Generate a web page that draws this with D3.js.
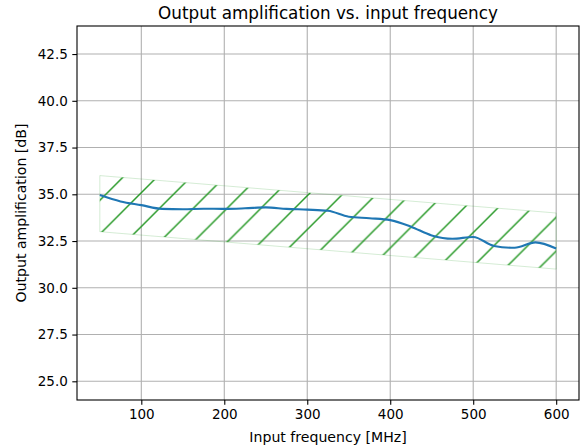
<!DOCTYPE html>
<html>
<head>
<meta charset="utf-8">
<script src="https://cdn.jsdelivr.net/npm/d3@7"></script>
<style>
  html, body { margin: 0; padding: 0; background: #fff; }
  text { font-family: "DejaVu Sans", sans-serif; fill: #000; }
</style>
</head>
<body>
<svg id="chart" width="583" height="447"></svg>
<script>
// ---- data ----
const freq = [50, 75, 100, 125, 150, 175, 200, 225, 250, 275, 300, 325, 350, 375, 400, 425, 450, 475, 500, 525, 550, 575, 600];
const gain = [34.96, 34.62, 34.42, 34.22, 34.2, 34.23, 34.22, 34.25, 34.3, 34.22, 34.18, 34.12, 33.8, 33.72, 33.62, 33.27, 32.8, 32.62, 32.72, 32.24, 32.14, 32.43, 32.1];
const bandX = [50, 600];
const bandUpper = [36, 34];
const bandLower = [33, 31];
const xTicks = [100, 200, 300, 400, 500, 600];
const yTicks = [25.0, 27.5, 30.0, 32.5, 35.0, 37.5, 40.0, 42.5];
const titleText = "Output amplification vs. input frequency";
const xLabel = "Input frequency [MHz]";
const yLabel = "Output amplification [dB]";

// ---- layout ----
const W = 583, H = 447;
const m = { left: 77, right: 4, top: 26, bottom: 47 };
const iw = W - m.left - m.right, ih = H - m.top - m.bottom;

const svg = d3.select("#chart");
const g = svg.append("g").attr("transform", `translate(${m.left},${m.top})`);

const x = d3.scaleLinear().domain([22.5, 627.5]).range([0, iw]);
const y = d3.scaleLinear().domain([24, 44]).range([ih, 0]);

// hatch pattern (45deg lines)
const s = 33.8, phase = 29.8;
const tx = (((phase - m.left - m.top) % s) + s) % s;
const defs = svg.append("defs");
const pat = defs.append("pattern")
  .attr("id", "hatch")
  .attr("patternUnits", "userSpaceOnUse")
  .attr("width", s).attr("height", s)
  .attr("patternTransform", `translate(${tx},0)`);
pat.append("path")
  .attr("d", `M0,${s} L${s},0 M${-2},2 L2,${-2} M${s-2},${s+2} L${s+2},${s-2}`)
  .attr("stroke", "#2a9a2a").attr("stroke-width", 1.5).attr("fill", "none");

// grid
g.append("g").selectAll("line").data(xTicks).join("line")
  .attr("x1", d => x(d)).attr("x2", d => x(d))
  .attr("y1", 0).attr("y2", ih)
  .attr("stroke", "#b0b0b0").attr("stroke-width", 1.1);
g.append("g").selectAll("line").data(yTicks).join("line")
  .attr("y1", d => y(d)).attr("y2", d => y(d))
  .attr("x1", 0).attr("x2", iw)
  .attr("stroke", "#b0b0b0").attr("stroke-width", 1.1);

// band
const bandData = bandX.map((v, i) => ({ x: v, lo: bandLower[i], hi: bandUpper[i] }));
const area = d3.area().x(d => x(d.x)).y0(d => y(d.lo)).y1(d => y(d.hi));
g.append("path").datum(bandData)
  .attr("d", area)
  .attr("fill", "url(#hatch)")
  .attr("stroke", "#2ca02c").attr("stroke-opacity", 0.2).attr("stroke-width", 1);

// main line
const line = d3.line().x((d, i) => x(freq[i])).y(d => y(d)).curve(d3.curveMonotoneX);
g.append("path").datum(gain)
  .attr("d", line)
  .attr("fill", "none").attr("stroke", "#1f77b4").attr("stroke-width", 2.1);

// axes
const xAxis = d3.axisBottom(x).tickValues(xTicks).tickSize(4.7).tickPadding(4.5).tickFormat(d3.format("d"));
const yAxis = d3.axisLeft(y).tickValues(yTicks).tickSize(4.7).tickPadding(4.5).tickFormat(d3.format(".1f"));
const gx = g.append("g").attr("transform", `translate(0,${ih})`).call(xAxis);
const gy = g.append("g").call(yAxis);
[gx, gy].forEach(a => {
  a.select(".domain").remove();
  a.selectAll(".tick line").attr("stroke", "#000").attr("stroke-width", 1.1);
  a.selectAll(".tick text").attr("font-size", "13.5px").attr("font-family", "DejaVu Sans").attr("fill", "#000");
});

// spines
g.append("rect").attr("x", 0).attr("y", 0).attr("width", iw).attr("height", ih)
  .attr("fill", "none").attr("stroke", "#000").attr("stroke-width", 1.1);

// labels
svg.append("text").attr("x", m.left + iw / 2).attr("y", 18.5)
  .attr("text-anchor", "middle").attr("font-size", "16.8px").text(titleText);
svg.append("text").attr("x", m.left + iw / 2).attr("y", 441.5)
  .attr("text-anchor", "middle").attr("font-size", "14.1px").text(xLabel);
svg.append("text").attr("transform", `translate(26,${m.top + ih / 2}) rotate(-90)`)
  .attr("text-anchor", "middle").attr("font-size", "14.1px").text(yLabel);
</script>
</body>
</html>
